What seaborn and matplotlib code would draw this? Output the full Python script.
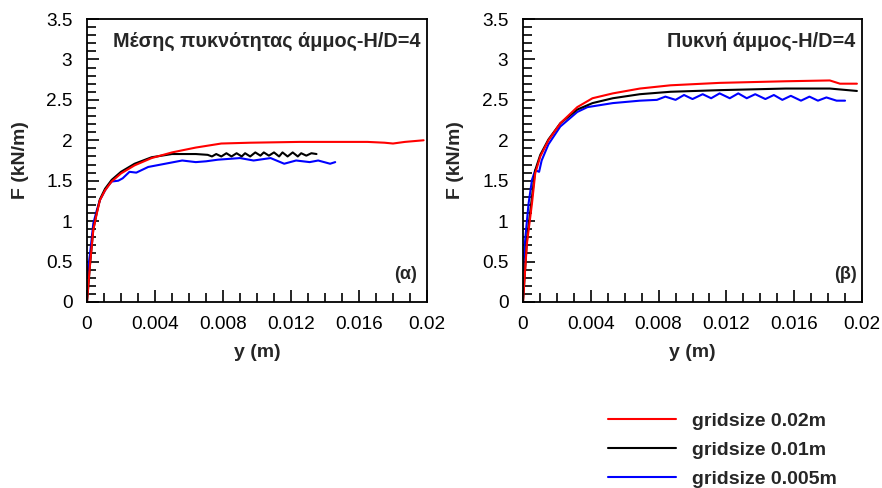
import numpy as np
import pandas as pd
import matplotlib
matplotlib.use("Agg")
import matplotlib.pyplot as plt
from matplotlib.ticker import MultipleLocator, FixedLocator
import seaborn as sns

# ---------------- data ----------------
series_labels = ["gridsize 0.02m", "gridsize 0.01m", "gridsize 0.005m"]
series_colors = ["#ff0000", "#000000", "#0000ff"]

panel_titles = ["Μέσης πυκνότητας άμμος-H/D=4", "Πυκνή άμμος-H/D=4"]
panel_tags = ["(α)", "(β)"]

xticks = [0, 0.004, 0.008, 0.012, 0.016, 0.02]
xtick_labels = ["0", "0.004", "0.008", "0.012", "0.016", "0.02"]
yticks = [0, 0.5, 1, 1.5, 2, 2.5, 3, 3.5]
ytick_labels = ["0", "0.5", "1", "1.5", "2", "2.5", "3", "3.5"]

# panel (a)
a_red_y = [0, 0.00018, 0.00037, 0.00057, 0.00076, 0.00106, 0.00145, 0.0020, 0.0028, 0.0038,
           0.0050, 0.0064, 0.0079, 0.0096, 0.0125, 0.0150, 0.0165, 0.0175, 0.0180, 0.0187, 0.0198]
a_red_F = [0, 0.47, 0.89, 1.09, 1.26, 1.38, 1.49, 1.59, 1.69, 1.78,
           1.85, 1.91, 1.96, 1.97, 1.98, 1.98, 1.98, 1.97, 1.96, 1.98, 2.00]

a_blk_y = [0, 0.00018, 0.00037, 0.00057, 0.00076, 0.00106, 0.00145, 0.0020, 0.0028, 0.0038,
           0.0050, 0.0064, 0.0071, 0.00735, 0.0076, 0.0079, 0.0082, 0.0085, 0.0088, 0.0091,
           0.0093, 0.0096, 0.0099, 0.0102, 0.0104, 0.0107, 0.0110, 0.0113, 0.0115, 0.0118,
           0.0121, 0.0124, 0.0126, 0.0129, 0.0132, 0.0135]
a_blk_F = [0, 0.47, 0.90, 1.10, 1.27, 1.40, 1.51, 1.61, 1.71, 1.79,
           1.83, 1.83, 1.82, 1.80, 1.83, 1.80, 1.84, 1.80, 1.84, 1.80,
           1.84, 1.80, 1.85, 1.81, 1.85, 1.81, 1.85, 1.80, 1.85, 1.80,
           1.85, 1.80, 1.84, 1.81, 1.84, 1.83]

a_blu_y = [0, 0.00018, 0.00037, 0.00057, 0.00076, 0.00106, 0.00125, 0.00145, 0.00184, 0.0021,
           0.0025, 0.0029, 0.0036, 0.0046, 0.0056, 0.0064, 0.0070, 0.0077, 0.0090, 0.0098,
           0.0108, 0.0116, 0.0123, 0.0131, 0.0136, 0.0143, 0.0146]
a_blu_F = [0.31, 0.60, 0.97, 1.13, 1.26, 1.38, 1.44, 1.49, 1.50, 1.53,
           1.61, 1.60, 1.67, 1.71, 1.75, 1.73, 1.74, 1.76, 1.78, 1.75,
           1.78, 1.71, 1.75, 1.73, 1.75, 1.71, 1.73]

# panel (b)
b_red_y = [0, 0.00023, 0.00053, 0.00072, 0.00102, 0.0015, 0.0022, 0.0032, 0.0041, 0.0053,
           0.0069, 0.0087, 0.0116, 0.0155, 0.0181, 0.0187, 0.0197]
b_red_F = [0, 0.72, 1.22, 1.59, 1.80, 2.00, 2.21, 2.41, 2.52, 2.58,
           2.64, 2.68, 2.71, 2.73, 2.74, 2.70, 2.70]

b_blk_y = [0, 0.00023, 0.00053, 0.00072, 0.00102, 0.0015, 0.0022, 0.0032, 0.0041, 0.0053,
           0.0069, 0.0087, 0.0116, 0.0155, 0.0181, 0.0197]
b_blk_F = [0, 0.76, 1.30, 1.63, 1.82, 2.01, 2.21, 2.38, 2.46, 2.52,
           2.57, 2.60, 2.62, 2.64, 2.64, 2.61]

b_blu_y = [0, 0.00014, 0.00033, 0.00053, 0.00072, 0.00095, 0.0011, 0.0015, 0.0022, 0.0032,
           0.0038, 0.0053, 0.0069, 0.0079, 0.0084, 0.0090, 0.0095, 0.0100, 0.0106, 0.0111,
           0.0116, 0.0122, 0.0127, 0.0132, 0.0137, 0.0143, 0.0148, 0.0153, 0.0158, 0.0164,
           0.0169, 0.0174, 0.0179, 0.0185, 0.0190]
b_blu_F = [0.39, 0.80, 1.22, 1.51, 1.63, 1.61, 1.75, 1.95, 2.17, 2.35,
           2.41, 2.46, 2.49, 2.50, 2.54, 2.50, 2.56, 2.51, 2.57, 2.52,
           2.58, 2.52, 2.58, 2.52, 2.57, 2.51, 2.56, 2.50, 2.55, 2.49,
           2.54, 2.49, 2.53, 2.49, 2.49]

panels = [
    [(a_red_y, a_red_F), (a_blk_y, a_blk_F), (a_blu_y, a_blu_F)],
    [(b_red_y, b_red_F), (b_blk_y, b_blk_F), (b_blu_y, b_blu_F)],
]

# ---------------- style ----------------
sns.set_theme(style="ticks")
plt.rcParams["font.family"] = ["Liberation Sans", "DejaVu Sans"]

fig = plt.figure(figsize=(8.82, 4.88), dpi=100)
fig.patch.set_facecolor("white")

axes_rects = [
    [87 / 882, 1 - 302 / 488, 340 / 882, 283 / 488],
    [523 / 882, 1 - 302 / 488, 339 / 882, 283 / 488],
]
title_pos = [(0.982, 0.919), (0.98, 0.92)]
tag_pos = [(0.97, 0.097), (0.986, 0.097)]
ylab_x = [-0.17, -0.175]

handles = {}
for i, rect in enumerate(axes_rects):
    ax = fig.add_axes(rect)
    ax.set_facecolor("white")
    # draw order: blue, black, red (red on top)
    for k in [2, 1, 0]:
        xs, fs = panels[i][k]
        df = pd.DataFrame({"y": xs, "F": fs})
        sns.lineplot(data=df, x="y", y="F", ax=ax, color=series_colors[k],
                     lw=1.5, sort=False, estimator=None)
        handles[k] = ax.get_lines()[-1]
    ax.set_xlim(0, 0.02)
    ax.set_ylim(0, 3.5)
    ax.xaxis.set_major_locator(FixedLocator(xticks))
    ax.set_xticklabels(xtick_labels)
    ax.yaxis.set_major_locator(FixedLocator(yticks))
    ax.set_yticklabels(ytick_labels)
    ax.xaxis.set_minor_locator(MultipleLocator(0.001))
    ax.yaxis.set_minor_locator(MultipleLocator(0.1))
    ax.tick_params(axis="both", which="both", direction="in", top=False, right=False,
                   colors="black")
    ax.tick_params(axis="both", which="major", length=8.6, width=1.2, labelsize=13.7)
    ax.tick_params(axis="x", which="major", pad=10)
    ax.tick_params(axis="y", which="major", pad=10.5)
    ax.tick_params(axis="both", which="minor", length=6.5, width=1.2)
    for s in ax.spines.values():
        s.set_linewidth(1.3)
        s.set_color("black")
        s.set_visible(True)
    ax.set_xlabel("y (m)", fontsize=14, fontweight="bold")
    ax.set_ylabel("F (kN/m)", fontsize=14, fontweight="bold")
    ax.xaxis.set_label_coords(0.5, -0.15)
    ax.yaxis.set_label_coords(ylab_x[i], 0.5)
    ax.text(title_pos[i][0], title_pos[i][1], panel_titles[i], transform=ax.transAxes,
            ha="right", va="center", fontsize=14.3, fontweight="bold")
    ax.text(tag_pos[i][0], tag_pos[i][1], panel_tags[i], transform=ax.transAxes,
            ha="right", va="center", fontsize=13, fontweight="bold")

fig.legend([handles[0], handles[1], handles[2]], series_labels,
           loc="upper left", bbox_to_anchor=(608 / 882, 1 - 412 / 488),
           frameon=False, prop={"weight": "bold", "size": 14},
           handlelength=3.5, handletextpad=0.8, labelspacing=0.60,
           borderaxespad=0, borderpad=0)

fig.savefig("out.png", dpi=100, facecolor="white")
